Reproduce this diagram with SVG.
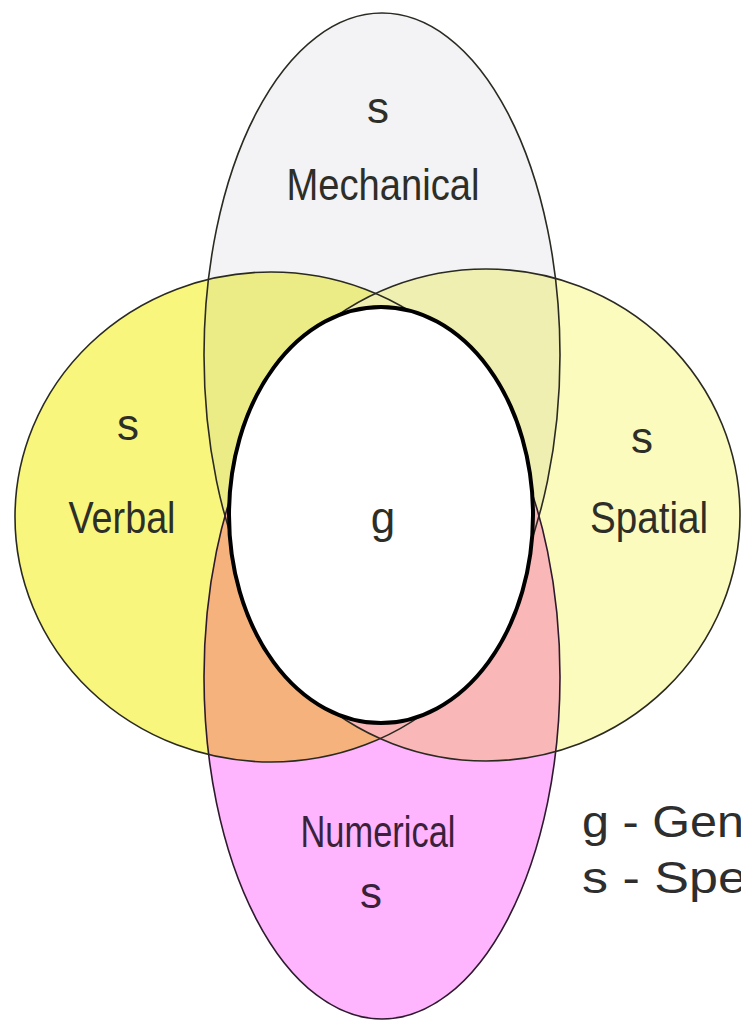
<svg xmlns="http://www.w3.org/2000/svg" width="741" height="1024" viewBox="0 0 741 1024">
<style>
.lbl{font-family:"Liberation Sans","DejaVu Sans",sans-serif;font-size:44px;fill:#2e2e28;text-anchor:middle}
.leg{font-family:"Liberation Sans","DejaVu Sans",sans-serif;font-size:44px;fill:#2e2e2e}
.ol{fill:none;stroke:#2a2a22;stroke-width:1.6}
</style>
<defs>
<clipPath id="cM"><ellipse cx="382" cy="355" rx="178" ry="342"/></clipPath>
<clipPath id="cN"><ellipse cx="382" cy="677" rx="178" ry="342"/></clipPath>
</defs>
<rect width="741" height="1024" fill="#ffffff"/>
<g id="fills">
<ellipse cx="382" cy="355" rx="178" ry="342" fill="#f3f3f5"/>
<ellipse cx="382" cy="677" rx="178" ry="342" fill="#ffb4fe"/>
<ellipse cx="271" cy="517" rx="256" ry="245" fill="#f8f67c"/>
<ellipse cx="486" cy="515" rx="254" ry="246" fill="#fbfbbe"/>
<ellipse cx="271" cy="517" rx="256" ry="245" fill="#ecec86" clip-path="url(#cM)"/>
<ellipse cx="486" cy="515" rx="254" ry="246" fill="#efefb2" clip-path="url(#cM)"/>
<ellipse cx="271" cy="517" rx="256" ry="245" fill="#f6b27c" clip-path="url(#cN)"/>
<ellipse cx="486" cy="515" rx="254" ry="246" fill="#fab7b7" clip-path="url(#cN)"/>
</g>
<g id="mechanical">
<ellipse class="ol" cx="382" cy="355" rx="178" ry="342"/>
<text class="lbl" x="378" y="123">s</text>
<text class="lbl" x="383" y="200" textLength="193" lengthAdjust="spacingAndGlyphs">Mechanical</text>
</g>
<g id="numerical">
<ellipse class="ol" cx="382" cy="677" rx="178" ry="342" style="stroke:#2e1a2e"/>
<text class="lbl" x="378" y="847" textLength="155" lengthAdjust="spacingAndGlyphs" style="fill:#3a213a">Numerical</text>
<text class="lbl" x="371" y="908" style="fill:#3a213a">s</text>
</g>
<g id="verbal">
<ellipse class="ol" cx="271" cy="517" rx="256" ry="245"/>
<text class="lbl" x="128" y="440">s</text>
<text class="lbl" x="122" y="533" textLength="107" lengthAdjust="spacingAndGlyphs">Verbal</text>
</g>
<g id="spatial">
<ellipse class="ol" cx="486" cy="515" rx="254" ry="246"/>
<text class="lbl" x="642" y="453">s</text>
<text class="lbl" x="649" y="533" textLength="118" lengthAdjust="spacingAndGlyphs">Spatial</text>
</g>
<g id="general">
<ellipse cx="381" cy="515" rx="152" ry="208" fill="#ffffff" stroke="#000" stroke-width="4"/>
<text class="lbl" x="383" y="533">g</text>
</g>
<g id="legend">
<text class="leg" x="582" y="837" textLength="162" lengthAdjust="spacingAndGlyphs">g - Gen</text>
<text class="leg" x="582" y="893" textLength="165" lengthAdjust="spacingAndGlyphs">s - Spe</text>
</g>
</svg>
